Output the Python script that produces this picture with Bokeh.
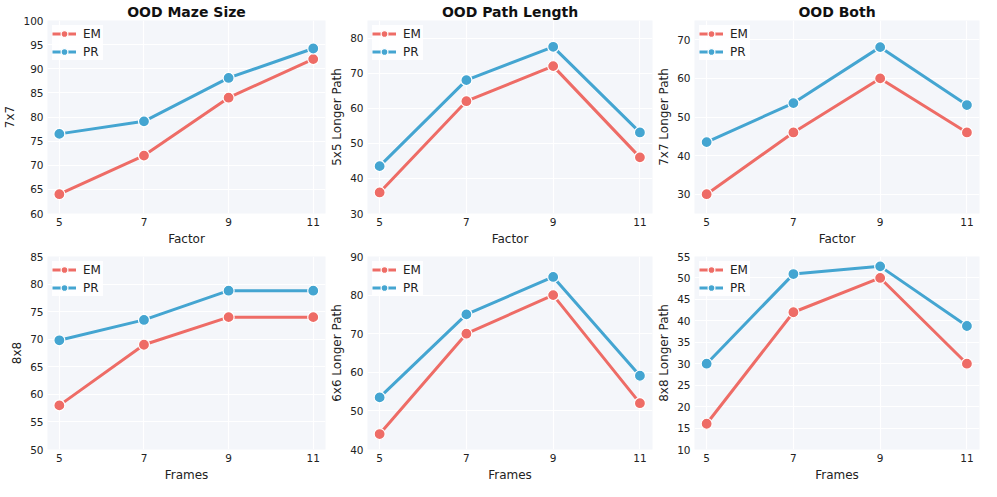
from bokeh.plotting import figure
from bokeh.layouts import gridplot
from bokeh.models import FixedTicker, Range1d, Legend, LegendItem, SingleIntervalTicker
from bokeh.embed import file_html
from bokeh.resources import INLINE

x_vals = [5, 7, 9, 11]

titles = ["OOD Maze Size", "OOD Path Length", "OOD Both", None, None, None]
x_labels = ["Factor", "Factor", "Factor", "Frames", "Frames", "Frames"]
y_labels = ["7x7", "5x5 Longer Path", "7x7 Longer Path", "8x8", "6x6 Longer Path", "8x8 Longer Path"]

em_series = [
    [64, 72, 84, 92],
    [36, 62, 72, 46],
    [30, 46, 60, 46],
    [58, 69, 74, 74],
    [44, 70, 80, 52],
    [16, 42, 50, 30],
]
pr_series = [
    [76.5, 79.1, 88.1, 94.2],
    [43.5, 68, 77.5, 53.1],
    [43.5, 53.6, 68.1, 53.1],
    [69.8, 73.5, 78.8, 78.8],
    [53.5, 75, 84.7, 59.1],
    [30, 50.9, 52.7, 38.8],
]
y_ranges = [(60, 100), (30, 85), (25, 75), (50, 85), (40, 90), (10, 55)]
y_steps = [5, 10, 10, 5, 10, 5]

EM_COLOR = "#EE6C66"
PR_COLOR = "#44A5D1"
FONT = "DejaVu Sans"

figs = []
for i in range(6):
    top_row = i < 3
    p = figure(
        width=327,
        height=248 if top_row else 236,
        output_backend="svg",
        toolbar_location=None,
        x_range=Range1d(4.72, 11.29),
        y_range=Range1d(*y_ranges[i]),
        min_border_left=36,
        min_border_right=2,
        min_border_top=20 if top_row else 8,
        min_border_bottom=26,
    )
    if titles[i]:
        p.title.text = titles[i]
        p.title.align = "center"
        p.title.text_font = FONT
        p.title.text_font_size = "14px"
        p.title.text_font_style = "bold"
        p.title.text_color = "#111111"
        p.title.standoff = 2
        p.title.offset = 0
    p.background_fill_color = "#F4F6FA"
    p.border_fill_color = "white"
    p.outline_line_color = None

    p.xaxis.ticker = FixedTicker(ticks=x_vals)
    p.yaxis.ticker = SingleIntervalTicker(interval=y_steps[i])
    for ax in (p.xaxis[0], p.yaxis[0]):
        ax.axis_line_color = None
        ax.major_tick_line_color = None
        ax.minor_tick_line_color = None
        ax.major_tick_out = 0
        ax.major_tick_in = 0
        ax.minor_tick_out = 0
        ax.minor_tick_in = 0
        ax.major_label_text_font = FONT
        ax.major_label_text_font_size = "10.5px"
        ax.major_label_text_color = "#222222"
        ax.axis_label_text_font = FONT
        ax.axis_label_text_font_size = "12px"
        ax.axis_label_text_font_style = "normal"
        ax.axis_label_text_color = "#222222"
        ax.major_label_standoff = 4
        ax.axis_label_standoff = 3
    p.xaxis.axis_label = x_labels[i]
    p.yaxis.axis_label = y_labels[i]

    p.xgrid.grid_line_color = "white"
    p.ygrid.grid_line_color = "white"
    p.xgrid.grid_line_width = 1.2
    p.ygrid.grid_line_width = 1.2

    l1 = p.line(x_vals, em_series[i], line_color=EM_COLOR, line_width=3)
    c1 = p.scatter(x_vals, em_series[i], size=11, fill_color=EM_COLOR, line_color="white", line_width=1.2)
    l2 = p.line(x_vals, pr_series[i], line_color=PR_COLOR, line_width=3)
    c2 = p.scatter(x_vals, pr_series[i], size=11, fill_color=PR_COLOR, line_color="white", line_width=1.2)

    legend = Legend(
        items=[LegendItem(label="EM", renderers=[l1, c1]), LegendItem(label="PR", renderers=[l2, c2])],
        location="top_left",
        label_text_font=FONT,
        label_text_font_size="12px",
        label_text_color="#222222",
        background_fill_color="white",
        background_fill_alpha=0.85,
        border_line_color=None,
        glyph_width=24,
        glyph_height=17,
        label_height=17,
        spacing=1,
        padding=4,
        margin=5,
        label_standoff=7,
    )
    p.add_layout(legend)
    figs.append(p)

grid = gridplot([figs[0:3], figs[3:6]], toolbar_location=None)

open("out.html", "w").write(file_html(grid, INLINE))
